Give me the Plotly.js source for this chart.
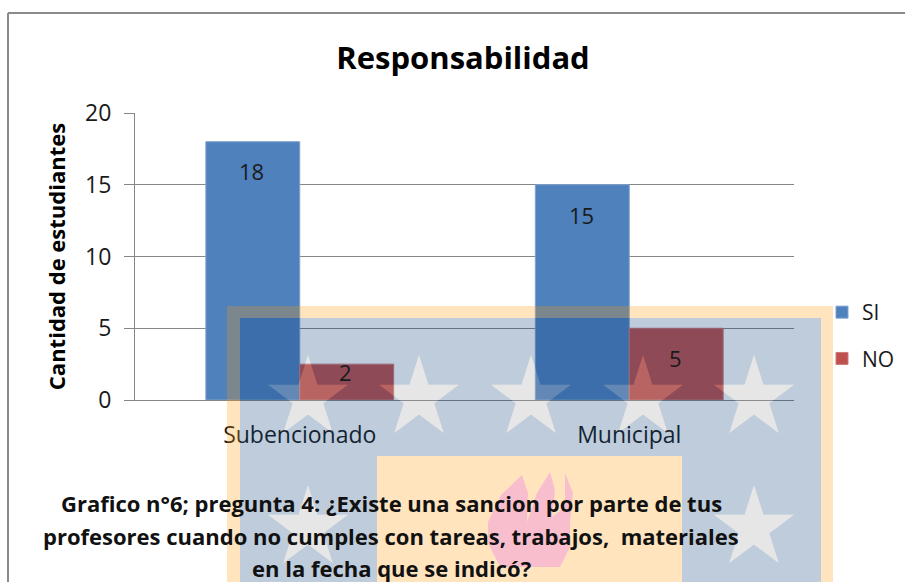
<!DOCTYPE html>
<html><head><meta charset="utf-8">
<script src="https://cdn.plot.ly/plotly-3.0.1.min.js"></script>
<style>html,body{margin:0;padding:0;background:#fff}#c{width:905px;height:582px}</style>
</head><body><div id="c"></div>
<script>
const categories = ["Subencionado", "Municipal"];
const siValues = [18, 15];
const noValues = [2.5, 5];
const siLabels = ["18", "15"];
const noLabels = ["2", "5"];
const chartTitle = "Responsabilidad";
const yTitle = "Cantidad de estudiantes";
const captionLines = [
  "Grafico n°6; pregunta 4: ¿Existe una sancion por parte de tus",
  "profesores cuando no cumples con tareas, trabajos,  materiales",
  "en la fecha que se indicó?"
];
const FONT = "'Open Sans', Lato, sans-serif";
const TXT = "#1a1a1a";

// plot-area box in page pixels; decoration is placed through these
const L = 135, R = 794, T = 113, B = 400, W = 905, H = 582;
const px = x => (x - L) / (R - L);
const py = y => (B - y) / (B - T);
const pathOf = pts => "M" + pts.map(p => px(p[0]) + "," + py(p[1])).join("L") + "Z";
const rect = (a, b, c, d) => pathOf([[a, b], [c, b], [c, d], [a, d]]);
function star(cx, top, bottom, hw) {
  const r = (bottom - top) / 1.81, cy = top + r, pts = [];
  for (let i = 0; i < 10; i++) {
    const ang = -Math.PI / 2 + i * Math.PI / 5, rad = i % 2 ? r * 0.382 : r;
    pts.push([cx + rad * Math.cos(ang) * (hw / (r * 0.951)), cy + rad * Math.sin(ang)]);
  }
  return pathOf(pts);
}
const starPaths = [
  star(308, 355, 433, 40), star(419, 355, 433, 40), star(531, 355, 433, 40),
  star(643, 355, 433, 40), star(754, 355, 433, 40),
  star(308, 485, 563, 40), star(754, 485, 563, 40)
];
const flame = pathOf([[488,522],[501,495],[522,475],[528,493],[527,522],[537,493],[550,472],[555,490],[552,517],[565,507],
  [565,473],[573,493],[570,522],[570,547],[560,567],[500,567],[488,543]]);
const shp = (path, fill, op) => ({type:"path", xref:"paper", yref:"paper", path, fillcolor:fill, opacity:op, line:{width:0}, layer:"above"});
const orange = "rgb(255,151,5)", blue = "rgb(5,59,116)", gray = "rgb(159,159,159)";
const shapes = [
  shp(rect(227,306,833,600) + rect(240,318,821,600), orange, .26),
  shp(rect(240,318,821,600) + rect(377,456,682,600) + starPaths.join(""), blue, .26),
  shp(rect(377,456,682,600), orange, .26),
  shp(starPaths.join(""), gray, .26),
  shp(flame, "#f8bece", 1),
  {type:"line", xref:"paper", yref:"paper", x0:px(8), x1:px(W), y0:py(13), y1:py(13), line:{color:"#8a8a8a", width:2}, layer:"above"},
  {type:"line", xref:"paper", yref:"paper", x0:px(8), x1:px(8), y0:py(13), y1:py(H), line:{color:"#8a8a8a", width:2}, layer:"above"}
];
const labelAnn = (i, val, txt, dx, ys) => ({xref:"x", yref:"y", x:categories[i], y:val, text:txt, showarrow:false,
  xshift:dx, yshift:ys, xanchor:"center", yanchor:"middle", font:{family:FONT, size:22, color:TXT}});
const annotations = [
  labelAnn(0, siValues[0], siLabels[0], -48, -29),
  labelAnn(1, siValues[1], siLabels[1], -48, -30),
  labelAnn(0, noValues[0], noLabels[0], 46, -8),
  labelAnn(1, noValues[1], noLabels[1], 46, -30)
].concat(captionLines.map((t, i) => ({xref:"paper", yref:"paper", x:px(391), y:py([503,536,568][i]), text:"<b>"+t+"</b>",
  xanchor:"center", yanchor:"middle", showarrow:false, font:{family:FONT, size:22, color:"#111"}})));

Plotly.newPlot("c", [
  {type:"bar", name:"SI", x:categories, y:siValues, marker:{color:"#4f81bd", line:{color:"#7fa3cf", width:1}}, legendgroup:"a"},
  {type:"bar", name:"NO", x:categories, y:noValues, marker:{color:"#c0504d", line:{color:"#cf7a78", width:1}}, legendgroup:"b"}
], {
  width:W, height:H, margin:{l:L, r:W-R, t:T, b:H-B, pad:0, autoexpand:false},
  paper_bgcolor:"#fff", plot_bgcolor:"#fff", barmode:"group", bargap:0.43, bargroupgap:0,
  title:{text:"<b>"+chartTitle+"</b>", x:463/W, xanchor:"center", y:1-58/H, yanchor:"middle", font:{family:FONT, size:31, color:"#000"}},
  xaxis:{type:"category", range:[-0.5,1.5], showgrid:false, showline:true, linecolor:"#868686", ticks:"", ticklabelstandoff:14,
    tickfont:{family:FONT, size:23, color:TXT}},
  yaxis:{range:[0,20], tick0:0, dtick:5, showgrid:true, gridcolor:"#868686", gridwidth:1, zeroline:false, showline:true, linecolor:"#868686",
    ticks:"outside", ticklen:10, tickcolor:"#868686", ticklabelstandoff:8, tickfont:{family:FONT, size:23, color:TXT},
    title:{text:"<b>"+yTitle+"</b>", standoff:13, font:{family:FONT, size:22, color:"#000"}}},
  legend:{x:px(822), xanchor:"left", y:py(292), yanchor:"top", tracegroupgap:16, traceorder:"grouped", bgcolor:"rgba(0,0,0,0)", font:{family:FONT, size:21, color:TXT}},
  shapes, annotations
}, {displayModeBar:false});
</script></body></html>
